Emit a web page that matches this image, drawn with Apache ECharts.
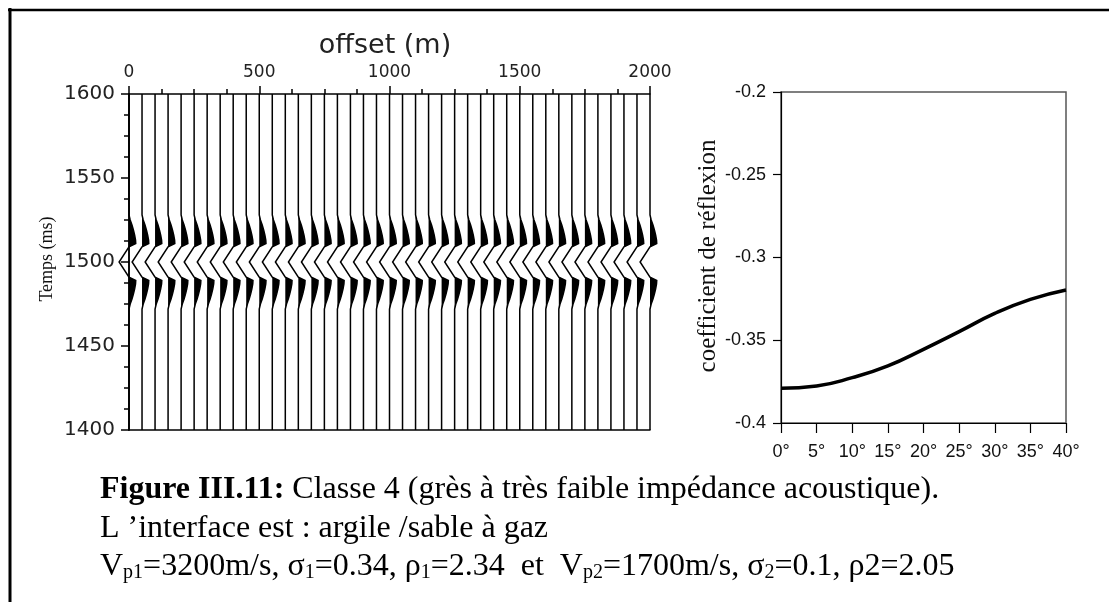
<!DOCTYPE html>
<html>
<head>
<meta charset="utf-8">
<script src="https://cdn.jsdelivr.net/npm/echarts@6/dist/echarts.min.js"></script>
<style>
  html, body { margin: 0; padding: 0; background: #fff; }
  #chart { width: 1109px; height: 602px; }
</style>
</head>
<body>
<div id="chart"></div>
<script>
// Receiver offsets of the synthetic gather (m)
const offsets = [0, 50, 100, 150, 200, 250, 300, 350, 400, 450, 500, 550, 600, 650, 700,
  750, 800, 850, 900, 950, 1000, 1050, 1100, 1150, 1200, 1250, 1300, 1350, 1400, 1450,
  1500, 1550, 1600, 1650, 1700, 1750, 1800, 1850, 1900, 1950, 2000];

// Two-way time of the shale / gas-sand interface (ms)
const reflectionTime = 1500;

// Reflected wavelet: time relative to the reflection (ms) and normalised amplitude
const waveletTime = [28, 25, 22, 19, 16, 13, 11, 9, 0, -9, -11, -13, -16, -19, -22, -25, -28];
const waveletAmp  = [0, 0.12, 0.3, 0.45, 0.57, 0.66, 0.68, 0, -1, 0, 0.68, 0.66, 0.57, 0.45, 0.3, 0.12, 0];

// AVO response: incidence angle (deg) and reflection coefficient
const angles = [0, 5, 10, 15, 20, 25, 30, 35, 40];
const reflCoef = [-0.379, -0.3776, -0.3726, -0.3655, -0.3555, -0.3448, -0.3338, -0.3253, -0.3196];

const TRACE_GAIN = 38;        // metres of horizontal deflection per unit amplitude
const SANS = 'DejaVu Sans';
const ARIAL = 'Liberation Sans';
const SERIF = 'Liberation Serif';

function renderTrace(params, api) {
  const x0 = api.value(0);
  const line = [api.coord([x0, 1600])];
  const fill = [];
  for (let i = 0; i < waveletTime.length; i++) {
    const t = reflectionTime + waveletTime[i];
    const a = waveletAmp[i];
    line.push(api.coord([x0 + TRACE_GAIN * a, t]));
    fill.push(api.coord([x0 + TRACE_GAIN * Math.max(a, 0), t]));
  }
  line.push(api.coord([x0, 1400]));
  fill.push(api.coord([x0, reflectionTime + waveletTime[waveletTime.length - 1]]));
  fill.push(api.coord([x0, reflectionTime + waveletTime[0]]));
  return {
    type: 'group',
    children: [
      { type: 'polygon', shape: { points: fill }, style: { fill: '#000' } },
      { type: 'polyline', shape: { points: line }, style: { stroke: '#000', lineWidth: 1.5, fill: null } }
    ]
  };
}

const plain = v => String(v);

const chart = echarts.init(document.getElementById('chart'), null, { renderer: 'canvas' });

const captionRich = {
  b: { fontFamily: SERIF, fontSize: 32, fontWeight: 'bold', lineHeight: 38, verticalAlign: 'bottom' },
  n: { fontFamily: SERIF, fontSize: 32, lineHeight: 38, verticalAlign: 'bottom' },
  s: { fontFamily: SERIF, fontSize: 20, lineHeight: 21, verticalAlign: 'bottom' }
};

chart.setOption({
  backgroundColor: '#fff',
  animation: false,
  grid: [
    { left: 129, top: 94, right: 459, bottom: 172 },
    { left: 781, top: 92, right: 43, bottom: 179, show: true, borderColor: '#555', borderWidth: 1.5 }
  ],
  xAxis: [
    {
      type: 'value', gridIndex: 0, position: 'top', min: 0, max: 2000, interval: 500,
      axisLine: { lineStyle: { color: '#000', width: 1.5 } },
      axisTick: { length: 8, lineStyle: { color: '#000', width: 1.5 } },
      minorTick: { show: true, splitNumber: 4, length: 5, lineStyle: { color: '#000', width: 1.5 } },
      splitLine: { show: false },
      axisLabel: { margin: 13, color: '#222', fontFamily: SANS, fontSize: 17, formatter: plain }
    },
    {
      type: 'value', gridIndex: 0, position: 'bottom', min: 0, max: 2000,
      axisLine: { lineStyle: { color: '#000', width: 1.5 } },
      axisTick: { show: false }, axisLabel: { show: false }, splitLine: { show: false }
    },
    {
      type: 'value', gridIndex: 1, min: 0, max: 40, interval: 5,
      axisLine: { lineStyle: { color: '#000', width: 1.2 } },
      axisTick: { length: 10, lineStyle: { color: '#000', width: 1.2 } },
      splitLine: { show: false },
      axisLabel: { margin: 20, color: '#111', fontFamily: ARIAL, fontSize: 18, formatter: '{value}°' }
    }
  ],
  yAxis: [
    {
      type: 'value', gridIndex: 0, min: 1400, max: 1600, interval: 50,
      axisLine: { lineStyle: { color: '#000', width: 1.5 } },
      axisTick: { length: 8, lineStyle: { color: '#000', width: 1.5 } },
      minorTick: { show: true, splitNumber: 4, length: 5, lineStyle: { color: '#000', width: 1.5 } },
      splitLine: { show: false },
      axisLabel: { margin: 14, color: '#222', fontFamily: SANS, fontSize: 20, formatter: plain }
    },
    {
      type: 'value', gridIndex: 1, min: -0.4, max: -0.2, interval: 0.05,
      axisLine: { show: true, lineStyle: { color: '#000', width: 1.2 } },
      axisTick: { show: true, length: 8, lineStyle: { color: '#000', width: 1.2 } },
      splitLine: { show: false },
      axisLabel: { margin: 15, color: '#111', fontFamily: ARIAL, fontSize: 18 }
    },
    {
      // right edge of the gather panel
      type: 'value', gridIndex: 0, position: 'right', min: 1400, max: 1600,
      axisLine: { show: true, lineStyle: { color: '#000', width: 1.5 } },
      axisTick: { show: false }, axisLabel: { show: false }, splitLine: { show: false }
    }
  ],
  series: [
    {
      type: 'custom',
      xAxisIndex: 0, yAxisIndex: 0,
      clip: false,
      renderItem: renderTrace,
      encode: { x: 0, y: 1 },
      data: offsets.map(o => [o, reflectionTime]),
      silent: true
    },
    {
      type: 'line',
      xAxisIndex: 2, yAxisIndex: 1,
      data: angles.map((a, i) => [a, reflCoef[i]]),
      smooth: 0.5,
      showSymbol: false,
      lineStyle: { color: '#000', width: 3.5 },
      silent: true
    }
  ],
  graphic: [
    // page frame
    { type: 'line', shape: { x1: 8, y1: 10, x2: 1109, y2: 10 }, style: { stroke: '#000', lineWidth: 2.5 } },
    { type: 'line', shape: { x1: 10, y1: 8, x2: 10, y2: 602 }, style: { stroke: '#000', lineWidth: 3 } },
    // axis titles
    { type: 'text', x: 385, y: 46, style: { text: 'offset (m)', fontFamily: SANS, fontSize: 27, fill: '#222', align: 'center', verticalAlign: 'middle' } },
    { type: 'text', x: 47, y: 259, rotation: Math.PI / 2, style: { text: 'Temps (ms)', fontFamily: SERIF, fontSize: 18, fill: '#111', align: 'center', verticalAlign: 'middle' } },
    { type: 'text', x: 708, y: 256, rotation: Math.PI / 2, style: { text: 'coefficient de réflexion', fontFamily: SERIF, fontSize: 25, fill: '#111', align: 'center', verticalAlign: 'middle' } },
    // caption
    {
      type: 'text', x: 100, y: 506,
      style: {
        text: '{b|Figure III.11:}{n| Classe 4 (grès à très faible impédance acoustique).}',
        verticalAlign: 'bottom', fill: '#000', rich: captionRich
      }
    },
    {
      type: 'text', x: 100, y: 545,
      style: {
        text: '{n|L ’interface est : argile /sable à gaz}',
        verticalAlign: 'bottom', fill: '#000', rich: captionRich
      }
    },
    {
      type: 'text', x: 100, y: 583,
      style: {
        text: '{n|V}{s|p1}{n|=3200m/s, σ}{s|1}{n|=0.34, ρ}{s|1}{n|=2.34  et  V}{s|p2}{n|=1700m/s, σ}{s|2}{n|=0.1, ρ2=2.05}',
        verticalAlign: 'bottom', fill: '#000', rich: captionRich
      }
    }
  ]
});
</script>
</body>
</html>
